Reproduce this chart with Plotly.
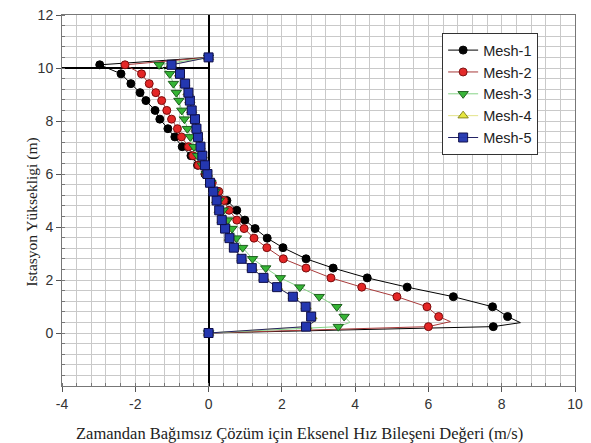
import plotly.graph_objects as go

# Station heights (m) shared by all mesh solutions
heights = [0.24, 0.62, 0.99, 1.37, 1.73, 2.08, 2.45, 2.80, 3.22, 3.58, 3.94, 4.26,
           4.63, 5.00, 5.34, 5.67, 6.00, 6.33, 6.69, 7.03, 7.40, 7.71, 8.07, 8.40,
           8.77, 9.07, 9.41, 9.78, 10.12]
wall_bottom = 0.0
wall_top = 10.4

# Axial velocity (m/s) at each station height
mesh1 = [7.77, 8.16, 7.75, 6.68, 5.42, 4.33, 3.40, 2.66, 2.03, 1.60, 1.27, 0.99,
         0.77, 0.50, 0.26, 0.08, -0.10, -0.30, -0.48, -0.72, -0.92, -1.11, -1.33, -1.46,
         -1.71, -1.87, -2.12, -2.39, -2.97]
mesh2 = [6.00, 6.28, 5.96, 5.14, 4.18, 3.34, 2.66, 2.04, 1.59, 1.24, 0.97, 0.77,
         0.56, 0.42, 0.28, 0.10, -0.08, -0.28, -0.43, -0.55, -0.74, -0.85, -1.01, -1.14,
         -1.28, -1.44, -1.62, -1.83, -2.28]
mesh3 = [3.54, 3.70, 3.50, 3.02, 2.49, 1.96, 1.56, 1.20, 0.93, 0.76, 0.64, 0.52,
         0.40, 0.29, 0.18, 0.06, -0.06, -0.17, -0.30, -0.40, -0.50, -0.58, -0.66, -0.73,
         -0.81, -0.88, -0.96, -1.06, -1.35]
mesh4 = [2.68, 2.82, 2.66, 2.31, 1.88, 1.51, 1.19, 0.91, 0.70, 0.57, 0.46, 0.37,
         0.29, 0.22, 0.13, 0.04, -0.03, -0.10, -0.17, -0.23, -0.29, -0.34, -0.38, -0.46,
         -0.51, -0.56, -0.65, -0.79, -1.02]
mesh5 = [2.66, 2.80, 2.65, 2.30, 1.87, 1.50, 1.18, 0.90, 0.69, 0.57, 0.45, 0.36,
         0.29, 0.22, 0.13, 0.04, -0.03, -0.10, -0.17, -0.22, -0.29, -0.33, -0.37, -0.46,
         -0.51, -0.55, -0.64, -0.78, -1.01]

# Near-wall peak of each profile (height, velocity), drawn without a marker
peaks = {
    "Mesh-1": (0.39, 8.51),
    "Mesh-2": (0.43, 6.60),
    "Mesh-3": (0.40, 3.86),
    "Mesh-4": (0.45, 2.92),
    "Mesh-5": (0.45, 2.90),
}

x_ticks = [-4, -2, 0, 2, 4, 6, 8, 10]
y_ticks = [0, 2, 4, 6, 8, 10, 12]

styles = {
    "Mesh-1": dict(symbol="circle", fill="#000000", edge="#000000", line="#000000", size=8),
    "Mesh-2": dict(symbol="circle", fill="#e42626", edge="#7a0c0c", line="#a83a3a", size=8),
    "Mesh-3": dict(symbol="triangle-down", fill="#35b535", edge="#1d5e1d", line="#86d386", size=9),
    "Mesh-4": dict(symbol="triangle-up", fill="#e6e63a", edge="#85851a", line="#e3e38a", size=9),
    "Mesh-5": dict(symbol="square", fill="#2437b0", edge="#0d0d48", line="#232366", size=9),
}

series = [("Mesh-1", mesh1), ("Mesh-2", mesh2), ("Mesh-3", mesh3),
          ("Mesh-4", mesh4), ("Mesh-5", mesh5)]

fig = go.Figure()
for name, vals in series:
    py, px = peaks[name]
    xs = [0.0, vals[0], px] + vals[1:] + [0.0]
    ys = [wall_bottom, heights[0], py] + heights[1:] + [wall_top]
    opac = [1.0] * len(xs)
    opac[2] = 0.0
    st = styles[name]
    fig.add_trace(go.Scatter(
        x=xs, y=ys, name=name, mode="lines+markers",
        line=dict(color=st["line"], width=1),
        marker=dict(symbol=st["symbol"], size=st["size"], color=st["fill"],
                    opacity=opac, line=dict(color=st["edge"], width=1)),
    ))

# Horizontal reference at the top wall, from the left axis to x = 0
fig.add_shape(type="line", x0=-4, x1=0, y0=10, y1=10, xref="x", yref="y",
              line=dict(color="black", width=2), layer="between")

grid_col = "#c9c9c9"
fig.update_xaxes(
    range=[-4, 10], tickmode="array", tickvals=x_ticks,
    ticktext=[str(v) for v in x_ticks],
    ticks="outside", ticklen=5, tickcolor="#555",
    showline=True, linecolor="#777", linewidth=1, mirror=True, automargin=False,
    showgrid=True, gridcolor=grid_col, gridwidth=1,
    zeroline=True, zerolinecolor="black", zerolinewidth=2,
    minor=dict(tick0=0, dtick=0.4, showgrid=True, gridcolor=grid_col, gridwidth=1,
               ticks="inside", ticklen=3, tickcolor="#777"),
    tickfont=dict(family="Liberation Sans, Arial", size=14, color="#333"),
)
fig.update_yaxes(
    range=[-2, 12], tickmode="array", tickvals=y_ticks,
    ticktext=[str(v) for v in y_ticks],
    ticks="outside", ticklen=5, tickcolor="#555",
    showline=True, linecolor="#777", linewidth=1, mirror=True, automargin=False,
    showgrid=True, gridcolor=grid_col, gridwidth=1, zeroline=False,
    minor=dict(tick0=0, dtick=0.4, showgrid=True, gridcolor=grid_col, gridwidth=1,
               ticks="inside", ticklen=3, tickcolor="#777"),
    tickfont=dict(family="Liberation Sans, Arial", size=14, color="#333"),
)

title_font = dict(family="Liberation Serif, Times New Roman", color="#222")

# Axis titles
fig.add_annotation(
    text="Zamandan Bağımsız Çözüm için Eksenel Hız Bileşeni Değeri (m/s)",
    xref="paper", yref="paper", x=0.463, y=-0.127,
    xanchor="center", yanchor="middle", showarrow=False,
    font=dict(size=16.5, **title_font),
)
fig.add_annotation(
    text="Istasyon Yüksekligi (m)", textangle=-90,
    xref="paper", yref="paper", x=-0.0585, y=0.47,
    xanchor="center", yanchor="middle", showarrow=False,
    font=dict(size=15.5, **title_font),
)

fig.update_layout(
    width=591, height=443,
    margin=dict(l=62, r=16, t=15, b=57),
    paper_bgcolor="white", plot_bgcolor="white",
    showlegend=True,
    legend=dict(x=0.741, y=0.951, xanchor="left", yanchor="top",
                bgcolor="white", bordercolor="#333", borderwidth=1,
                font=dict(family="Liberation Sans, Arial", size=14.5, color="#222"),
                tracegroupgap=0, itemwidth=30),
)

fig.write_html("out.html")
